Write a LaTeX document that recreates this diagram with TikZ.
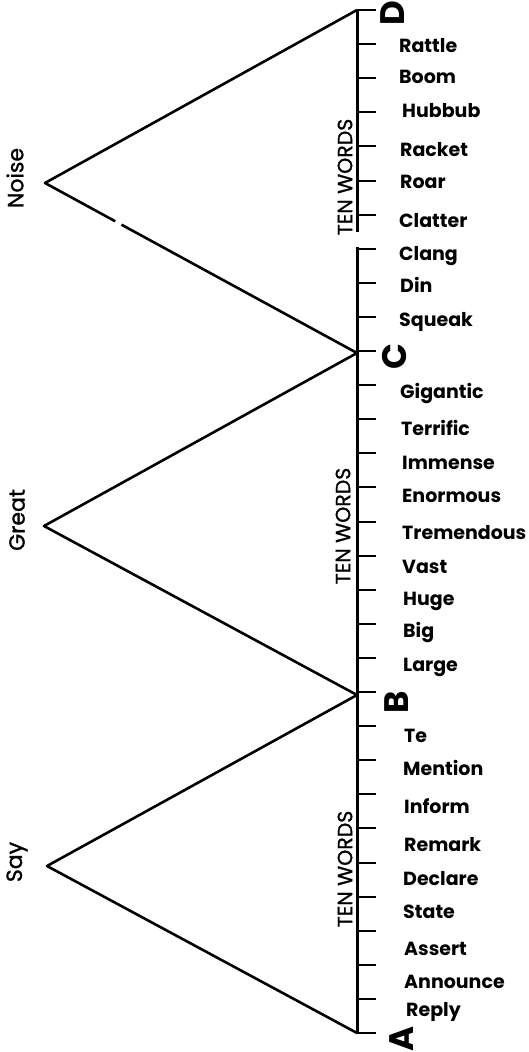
\documentclass[tikz,border=0pt]{standalone}
\usepackage{fontspec}
\setmainfont{Poppins}
\newfontfamily\midfont{Poppins}[FakeBold=1.2]
\usetikzlibrary{calc}

\begin{document}
\begin{tikzpicture}[x=1pt,y=-1pt,line join=round]
   \tikzset{word/.style={anchor=base west,inner sep=0pt,font=\fontsize{19}{19}\selectfont\bfseries}}
   \tikzset{mark letter/.style={rotate=90,inner sep=0pt,font=\fontsize{34}{34}\selectfont\bfseries}}
   \tikzset{topic/.style={rotate=90,inner sep=0pt,font=\midfont\fontsize{22}{22}\selectfont}}
   \tikzset{count/.style={rotate=90,inner sep=0pt,font=\midfont\fontsize{20.5}{20.5}\selectfont}}
   \tikzset{tick/.style={line width=2pt}}
   \tikzset{spine/.style={line width=3pt}}
   \tikzset{arm/.style={line width=2.6pt}}
   \useasboundingbox (0,0) rectangle (529,1052);
   % ends of the three groups of ten
   \coordinate (A) at (357,1033);
   \coordinate (B) at (357,695);
   \coordinate (C) at (357,353);
   \coordinate (D) at (357,10);
   \coordinate (breaklow) at (357,247);
   \coordinate (breakhigh) at (357,232);
   % apexes
   \coordinate (say) at (47,866);
   \coordinate (great) at (44,526);
   \coordinate (noise) at (45,183);
   % scale
   \draw[spine] (A) -- (breaklow);
   \draw[spine] (breakhigh) -- (D);
   \foreach \i in {0,...,30}
      \draw[tick] ($(A)+(0,-\i*34.1)$) -- ++(19,0);
   % the three wedges
   \draw[arm] (A) -- (say) -- (B);
   \draw[arm] (B) -- (great) -- (C);
   \draw[arm] (C) -- ($(noise)!0.245!(C)$);
   \draw[arm] ($(noise)!0.225!(C)$) -- (noise) -- (D);
   \node[mark letter] (lA) at (402,1039) {A};
   \node[mark letter] (lB) at (397,702) {B};
   \node[mark letter] (lC) at (395,357) {C};
   \node[mark letter] (lD) at (393,13) {D};
   \node[topic] (tsay) at (17,862) {Say};
   \node[topic] (tgreat) at (17,520) {Great};
   \node[topic] (tnoise) at (15,178) {Noise};
   \node[count] (ten1) at (345,869) {TEN WORDS};
   \node[count] (ten2) at (343,526) {TEN WORDS};
   \node[count] (ten3) at (345,177) {TEN WORDS};
   % words
   \node[word] (reply) at (406,1016) {Reply};
   \node[word] (announce) at (404,988) {Announce};
   \node[word] (assert) at (404,955) {Assert};
   \node[word] (state) at (403,918) {State};
   \node[word] (declare) at (403,885) {Declare};
   \node[word] (remark) at (404,851) {Remark};
   \node[word] (inform) at (404,813) {Inform};
   \node[word] (mention) at (403,775) {Mention};
   \node[word] (tell) at (404,742) {Te};
   \node[word] (large) at (403,671) {Large};
   \node[word] (big) at (403,637) {Big};
   \node[word] (huge) at (403,605) {Huge};
   \node[word] (vast) at (402,573) {Vast};
   \node[word] (tremendous) at (402,539) {Tremendous};
   \node[word] (enormous) at (402,502) {Enormous};
   \node[word] (immense) at (402,469) {Immense};
   \node[word] (terrific) at (401,435) {Terrific};
   \node[word] (gigantic) at (400,398) {Gigantic};
   \node[word] (squeak) at (399,326) {Squeak};
   \node[word] (din) at (400,292) {Din};
   \node[word] (clang) at (399,260) {Clang};
   \node[word] (clatter) at (399,227) {Clatter};
   \node[word] (roar) at (400,188) {Roar};
   \node[word] (racket) at (400,156) {Racket};
   \node[word] (hubbub) at (402,117) {Hubbub};
   \node[word] (boom) at (399,83) {Boom};
   \node[word] (rattle) at (399,52) {Rattle};
\end{tikzpicture}
\end{document}
